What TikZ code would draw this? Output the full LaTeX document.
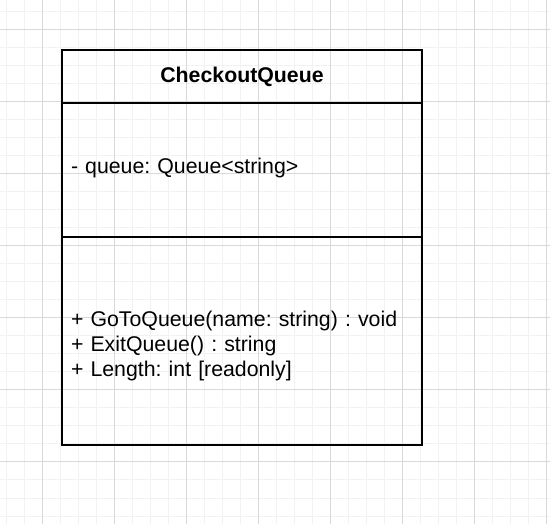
\documentclass[tikz,border=0pt]{standalone}
\usepackage{fontspec}
\setmainfont{Liberation Sans}
\usetikzlibrary{positioning}

\begin{document}
\frenchspacing
\begin{tikzpicture}[x=1pt, y=-1pt,
  gridminor/.style={draw=gray!10, line width=1pt},
  gridmajor/.style={draw=gray!30, line width=1pt},
  umltitle/.style={draw, line width=1.6pt, outer sep=0pt, inner xsep=9pt,
                   minimum width=360pt, minimum height=53pt,
                   font=\fontsize{21.3}{25}\selectfont\bfseries},
  umlpart/.style={draw, line width=1.6pt, outer sep=0pt, inner xsep=9pt,
                  minimum width=360pt, text width=342pt, align=left,
                  font=\fontsize{21.3}{25}\selectfont}
]
  \useasboundingbox (0,0) rectangle (550,524);
  \foreach \gx in {6.3,24.3,...,550} \draw[gridminor] (\gx,0) -- (\gx,524);
  \foreach \gy in {12,30,...,524} \draw[gridminor] (0,\gy) -- (550,\gy);
  \foreach \gx in {42.3,114.3,...,550} \draw[gridmajor] (\gx,0) -- (\gx,524);
  \foreach \gy in {30,102,...,524} \draw[gridmajor] (0,\gy) -- (550,\gy);

  \node[umltitle] (cls) at (242,76.5) {CheckoutQueue};
  \node[umlpart, minimum height=134pt, below=0pt of cls] (attrs)
    {- queue: Queue<string>\rule[-8.5pt]{0pt}{0pt}};
  \node[umlpart, minimum height=208pt, below=0pt of attrs] (ops)
    {\rule{0pt}{25.5pt}+ GoToQueue(name: string) : void\\
     + ExitQueue() : string\\
     + Length: int [readonly]};
\end{tikzpicture}
\end{document}
